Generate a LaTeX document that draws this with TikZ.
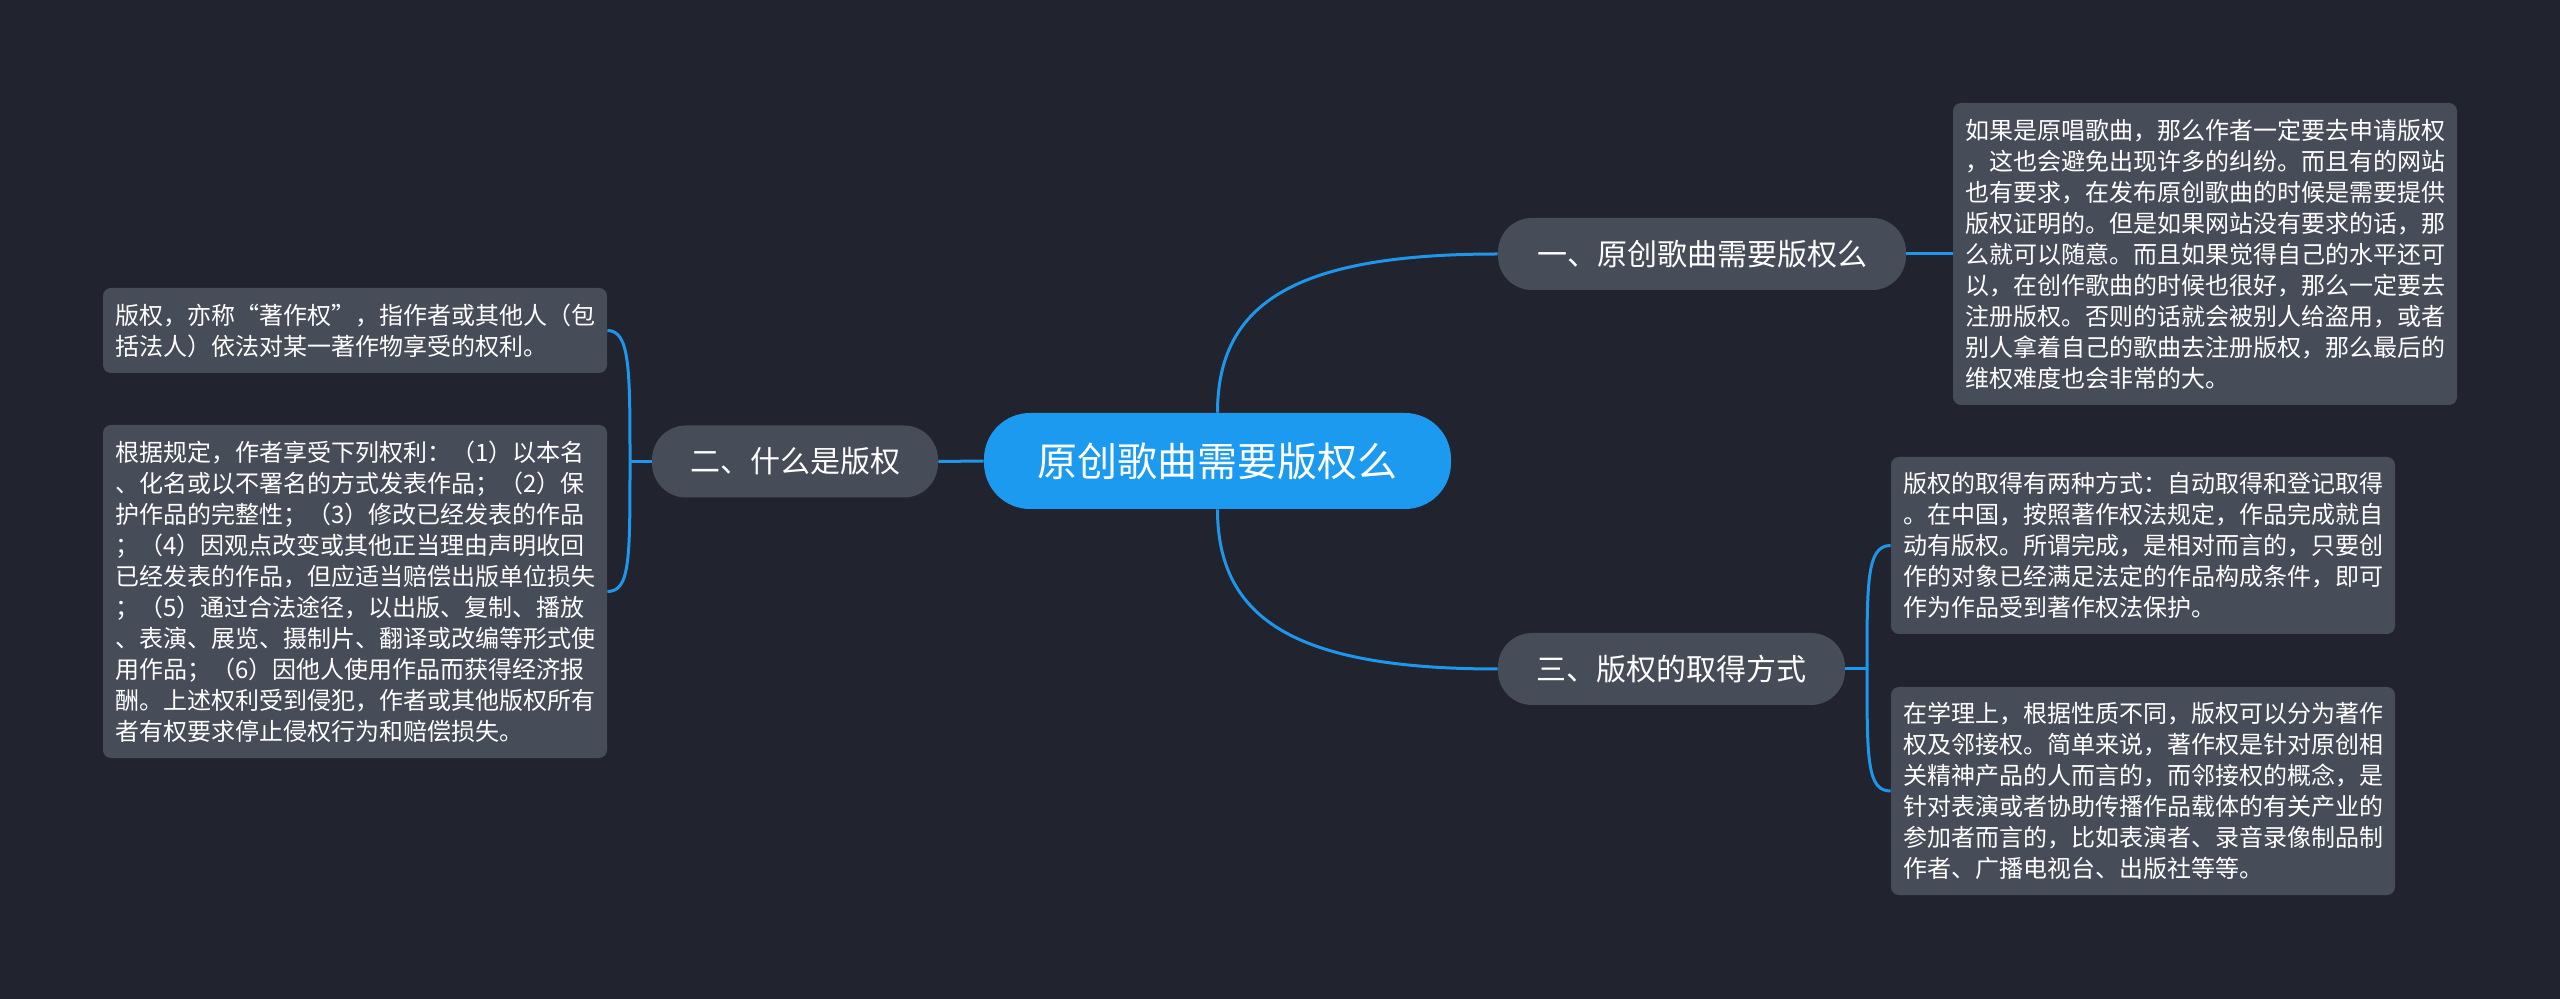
\documentclass[tikz,border=0pt]{standalone}
\usepackage{fontspec}
\newfontfamily\cjk{Noto Sans CJK SC}
\definecolor{bg}{HTML}{21242E}
\definecolor{boxc}{HTML}{474C59}
\definecolor{linec}{HTML}{1E96EA}
\definecolor{mainc}{HTML}{1C9AF0}
\begin{document}
\begin{tikzpicture}[x=0.5pt,y=-0.5pt,
  leafbox/.style={fill=boxc, rounded corners=4pt, text=white,
    font=\cjk\fontsize{12pt}{15.5pt}\selectfont, align=left,
    text width=240pt, inner xsep=6pt, inner ysep=0pt},
  branchbox/.style={fill=boxc, rounded corners=17pt, text=white,
    font=\cjk\fontsize{15pt}{18pt}\selectfont, inner sep=0pt, minimum height=36pt},
  rootbox/.style={fill=mainc, rounded corners=23pt, text=white,
    font=\cjk\fontsize{20pt}{24pt}\selectfont, inner sep=0pt,
    minimum height=48pt, minimum width=233.5pt},
  conn/.style={draw=linec, line width=1.5pt}]
\fill[bg] (0,0) rectangle (2560,999);
\useasboundingbox (0,0) rectangle (2560,999);

\node[rootbox] (root) at (1217.5,461) {原创歌曲需要版权么};
\node[branchbox, minimum width=204pt] (b1) at (1702,254) {一、原创歌曲需要版权么};
\node[branchbox, minimum width=143pt] (b2) at (795,461.5) {二、什么是版权};
\node[branchbox, minimum width=173.5pt] (b3) at (1671.5,669) {三、版权的取得方式};

\node[leafbox, minimum height=151pt] (l1) at (2205,254) {如果是原唱歌曲，那么作者一定要去申请版权\\%
，这也会避免出现许多的纠纷。而且有的网站\\%
也有要求，在发布原创歌曲的时候是需要提供\\%
版权证明的。但是如果网站没有要求的话，那\\%
么就可以随意。而且如果觉得自己的水平还可\\%
以，在创作歌曲的时候也很好，那么一定要去\\%
注册版权。否则的话就会被别人给盗用，或者\\%
别人拿着自己的歌曲去注册版权，那么最后的\\%
维权难度也会非常的大。};

\node[leafbox, minimum height=88.5pt] (l2) at (2143,545.5) {版权的取得有两种方式：自动取得和登记取得\\%
。在中国，按照著作权法规定，作品完成就自\\%
动有版权。所谓完成，是相对而言的，只要创\\%
作的对象已经满足法定的作品构成条件，即可\\%
作为作品受到著作权法保护。};

\node[leafbox, minimum height=104pt] (l3) at (2143,791) {在学理上，根据性质不同，版权可以分为著作\\%
权及邻接权。简单来说，著作权是针对原创相\\%
关精神产品的人而言的，而邻接权的概念，是\\%
针对表演或者协助传播作品载体的有关产业的\\%
参加者而言的，比如表演者、录音录像制品制\\%
作者、广播电视台、出版社等等。};

\node[leafbox, minimum height=42.5pt] (l4) at (355,330.5) {版权，亦称“著作权”，指作者或其他人（包\\%
括法人）依法对某一著作物享受的权利。};

\node[leafbox, minimum height=166.5pt] (l5) at (355,591.5) {根据规定，作者享受下列权利：（1）以本名\\%
、化名或以不署名的方式发表作品；（2）保\\%
护作品的完整性；（3）修改已经发表的作品\\%
；（4）因观点改变或其他正当理由声明收回\\%
已经发表的作品，但应适当赔偿出版单位损失\\%
；（5）通过合法途径，以出版、复制、播放\\%
、表演、展览、摄制片、翻译或改编等形式使\\%
用作品；（6）因他人使用作品而获得经济报\\%
酬。上述权利受到侵犯，作者或其他版权所有\\%
者有权要求停止侵权行为和赔偿损失。};

% connectors
\draw[conn] (root.north) .. controls (1217.5,300) and (1300,254) .. (b1.west);
\draw[conn] (root.south) .. controls (1217.5,622) and (1300,669) .. (b3.west);
\draw[conn] (root.west) -- (b2.east);
\draw[conn] (b1.east) -- (l1.west);

\coordinate (j3) at (1867,669);
\draw[conn] (b3.east) -- (j3);
\draw[conn] (j3) .. controls (1867,580) and (1867,545.5) .. (l2.west);
\draw[conn] (j3) .. controls (1867,760) and (1867,791) .. (l3.west);

\coordinate (j2) at (630,461.5);
\draw[conn] (b2.west) -- (j2);
\draw[conn] (j2) .. controls (630,370) and (630,330.5) .. (l4.east);
\draw[conn] (j2) .. controls (630,560) and (630,591.5) .. (l5.east);
\end{tikzpicture}
\end{document}
